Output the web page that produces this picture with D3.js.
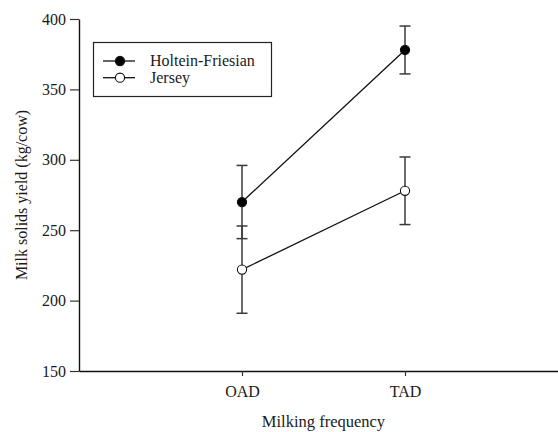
<!DOCTYPE html>
<html>
<head>
<meta charset="utf-8">
<script src="https://cdn.jsdelivr.net/npm/d3@7/dist/d3.min.js"></script>
<style>
  html, body { margin: 0; padding: 0; background: #fff; }
  svg { display: block; }
</style>
</head>
<body>
<svg id="chart" width="558" height="432"></svg>
<script>
// Milking frequency treatments
const categories = ["OAD", "TAD"];
// Breed series: mean milk solids yield and error (kg/cow)
const seriesNames = ["Holtein-Friesian", "Jersey"];
const hfMean = [270, 378];
const hfErr = [26, 17];
const jerseyMean = [222, 278];
const jerseyErr = [31, 24];
const yTicks = [150, 200, 250, 300, 350, 400];

const series = [
  { name: seriesNames[0], mean: hfMean, err: hfErr, fill: "#000" },
  { name: seriesNames[1], mean: jerseyMean, err: jerseyErr, fill: "#fff" }
];

const FONT = "'Liberation Serif', 'Times New Roman', Times, serif";
const TEXT_COLOR = "#1a1a1a";

const svg = d3.select("#chart");
const plotLeft = 79, plotRight = 568, plotTop = 19, plotBottom = 371;

// Categories sit at positions 1 and 2 on a 0..3 axis
const x = d3.scaleLinear().domain([0, 3]).range([plotLeft, plotRight]);
const y = d3.scaleLinear().domain([150, 400]).range([plotBottom, plotTop]);

// Y axis
const yAxis = svg.append("g")
  .attr("transform", `translate(${plotLeft},0)`)
  .call(d3.axisLeft(y).tickValues(yTicks).tickSize(9).tickSizeOuter(0).tickPadding(4));

// X axis
const xAxis = svg.append("g")
  .attr("transform", `translate(0,${plotBottom})`)
  .call(d3.axisBottom(x).tickValues([1, 2]).tickFormat((d) => categories[d - 1])
    .tickSize(5).tickSizeOuter(0).tickPadding(10));

[yAxis, xAxis].forEach((ax) => {
  ax.attr("font-family", FONT).attr("font-size", 16);
  ax.selectAll("text").attr("font-family", FONT).attr("font-size", 16).attr("fill", TEXT_COLOR);
});

svg.selectAll(".domain").attr("stroke", "#111").attr("stroke-width", 1.4);
svg.selectAll(".tick line").attr("stroke", "#333").attr("stroke-width", 1.2);

// Axis titles
svg.append("text")
  .attr("x", (plotLeft + plotRight) / 2).attr("y", 427)
  .attr("text-anchor", "middle").attr("font-size", 16.5)
  .attr("font-family", FONT).attr("fill", TEXT_COLOR)
  .text("Milking frequency");
svg.append("text")
  .attr("transform", `translate(27,${(plotTop + plotBottom) / 2}) rotate(-90)`)
  .attr("text-anchor", "middle").attr("font-size", 16)
  .attr("font-family", FONT).attr("fill", TEXT_COLOR)
  .text("Milk solids yield (kg/cow)");

const plot = svg.append("g");
const capHalf = 5.5;

// Error bars
series.forEach((s) => {
  s.mean.forEach((m, i) => {
    const cx = x(i + 1);
    const g = plot.append("g").attr("stroke", "#3a3a3a").attr("stroke-width", 1.5);
    g.append("line").attr("x1", cx).attr("x2", cx)
      .attr("y1", y(m - s.err[i])).attr("y2", y(m + s.err[i]));
    [m - s.err[i], m + s.err[i]].forEach((v) => {
      g.append("line").attr("x1", cx - capHalf).attr("x2", cx + capHalf)
        .attr("y1", y(v)).attr("y2", y(v));
    });
  });
});

// Connecting lines
const line = d3.line().x((d, i) => x(i + 1)).y((d) => y(d));
series.forEach((s) => {
  plot.append("path").datum(s.mean)
    .attr("d", line).attr("fill", "none")
    .attr("stroke", "#111").attr("stroke-width", 1.3);
});

// Markers
series.forEach((s) => {
  plot.selectAll(null).data(s.mean).enter().append("circle")
    .attr("cx", (d, i) => x(i + 1)).attr("cy", (d) => y(d))
    .attr("r", 4.6).attr("fill", s.fill)
    .attr("stroke", "#111").attr("stroke-width", 1.1);
});

// Legend
const legend = svg.append("g");
legend.append("rect")
  .attr("x", 93.5).attr("y", 42.5).attr("width", 178).attr("height", 54)
  .attr("fill", "#fff").attr("stroke", "#222").attr("stroke-width", 1.2);
series.forEach((s, i) => {
  const ly = 61 + i * 16.7;
  legend.append("line").attr("x1", 103).attr("x2", 135)
    .attr("y1", ly).attr("y2", ly).attr("stroke", "#111").attr("stroke-width", 1.3);
  legend.append("circle").attr("cx", 120).attr("cy", ly).attr("r", 4.6)
    .attr("fill", s.fill).attr("stroke", "#111").attr("stroke-width", 1.1);
  legend.append("text").attr("x", 150).attr("y", ly + 5)
    .attr("font-size", 16).attr("font-family", FONT).attr("fill", TEXT_COLOR)
    .text(s.name);
});
</script>
</body>
</html>
